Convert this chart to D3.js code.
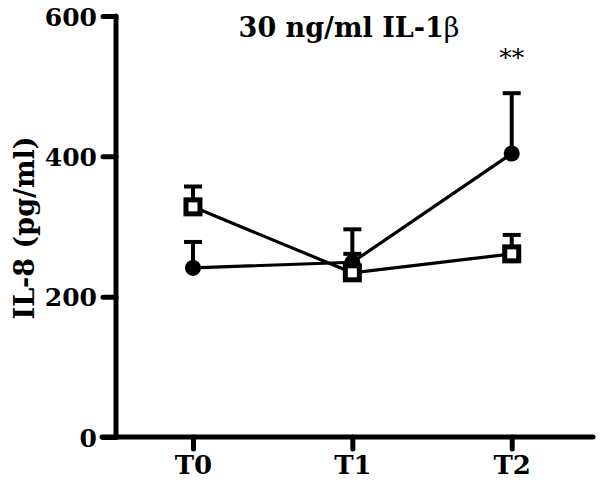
<!DOCTYPE html>
<html><head><meta charset="utf-8">
<script src="https://cdn.jsdelivr.net/npm/d3@7"></script>
<style>body{margin:0;background:#fff}svg{display:block}</style>
</head><body>
<svg id="c" width="600" height="489"></svg>
<script>
const categories = ["T0", "T1", "T2"];
const circleMean = [241, 249, 404];
const circleErr = [278, 296, 490];
const squareMean = [328, 234, 261];
const squareErr = [357, 261, 288];
const yTicks = [0, 200, 400, 600];

const svg = d3.select("#c");
const font = "'DejaVu Serif', serif";
const x = d3.scaleLinear().domain([-0.483, 2.51]).range([116, 593]);
const y = d3.scaleLinear().domain([0, 600]).range([437, 16]);

// axes
const yAxis = svg.append("g").attr("transform", "translate(116,0)")
  .call(d3.axisLeft(y).tickValues(yTicks).tickSize(13).tickPadding(6).tickFormat(d3.format("d")));
const xAxis = svg.append("g").attr("transform", "translate(0,437)")
  .call(d3.axisBottom(x).tickValues([0,1,2]).tickSize(12).tickPadding(7).tickFormat(i => categories[i]));
[yAxis, xAxis].forEach(g => {
  g.attr("font-size", null).attr("font-family", null);
  g.select(".domain").attr("stroke", "#000").attr("stroke-width", 5).attr("stroke-linecap", "round");
  g.selectAll(".tick line").attr("stroke", "#000").attr("stroke-width", 5).attr("stroke-linecap", "round");
  g.selectAll("text").attr("fill", "#000").style("font-family", font).style("font-weight", "bold");
});
yAxis.selectAll(".tick text").style("font-size", "25px").attr("dy", "0.36em");
xAxis.selectAll(".tick text").style("font-size", "26px");
yAxis.select(".domain").attr("d", `M0,${y(600)}V${y(0)}`);
xAxis.select(".domain").attr("d", `M${x(-0.483)-14},0H${x(2.51)}`);

const line = d3.line().x((d, i) => x(i)).y(d => y(d));
svg.append("path").attr("d", line(circleMean)).attr("fill", "none").attr("stroke", "#000").attr("stroke-width", 3.2);
svg.append("path").attr("d", line(squareMean)).attr("fill", "none").attr("stroke", "#000").attr("stroke-width", 3.2);

function errBars(mean, err) {
  const g = svg.append("g").attr("stroke", "#000").attr("stroke-width", 4);
  mean.forEach((m, i) => {
    g.append("line").attr("x1", x(i)).attr("x2", x(i)).attr("y1", y(m)).attr("y2", y(err[i]));
    g.append("line").attr("x1", x(i) - 9).attr("x2", x(i) + 9).attr("y1", y(err[i])).attr("y2", y(err[i]));
  });
}
errBars(circleMean, circleErr);
errBars(squareMean, squareErr);

svg.append("g").selectAll("circle").data(circleMean).join("circle")
  .attr("cx", (d, i) => x(i)).attr("cy", d => y(d)).attr("r", 8).attr("fill", "#000");
svg.append("g").selectAll("rect").data(squareMean).join("rect")
  .attr("x", (d, i) => x(i) - 7).attr("y", d => y(d) - 7).attr("width", 14).attr("height", 14)
  .attr("fill", "#fff").attr("stroke", "#000").attr("stroke-width", 5);

// title
const t = svg.append("text").attr("x", 349).attr("y", 37).attr("text-anchor", "middle")
  .style("font-family", font).style("font-weight", "bold").style("font-size", "27px").attr("fill", "#000");
t.append("tspan").text("30 ng/ml IL-1");
t.append("tspan").style("font-weight", "normal").text("β");

// significance
svg.append("text").attr("x", x(2)).attr("y", 66).attr("text-anchor", "middle")
  .style("font-family", font).style("font-size", "25px").attr("fill", "#000").text("**");

// y label
svg.append("text").attr("transform", "translate(34,228) rotate(-90)").attr("text-anchor", "middle")
  .style("font-family", font).style("font-weight", "bold").style("font-size", "27px").attr("fill", "#000")
  .text("IL-8 (pg/ml)");
</script>
</body></html>
